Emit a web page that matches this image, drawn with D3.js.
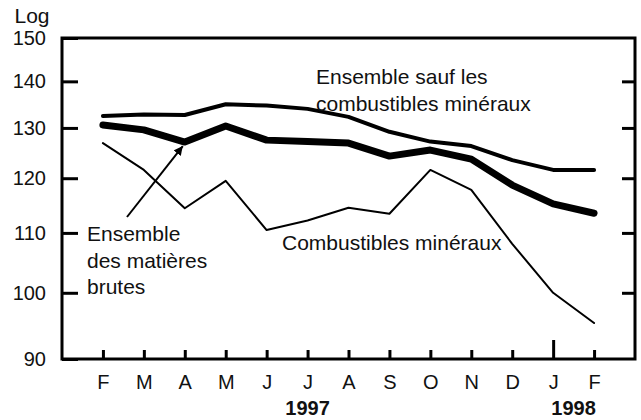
<!DOCTYPE html>
<html>
<head>
<meta charset="utf-8">
<script src="https://cdn.jsdelivr.net/npm/d3@7"></script>
<style>
  body { margin: 0; background: #fff; }
  svg { font-family: "Liberation Sans", Arial, sans-serif; }
</style>
</head>
<body>
<div id="chart"></div>
<script>
// Data (log index)
const months = ["F", "M", "A", "M", "J", "J", "A", "S", "O", "N", "D", "J", "F"];
const years = ["1997", "1998"];
const yTicks = [90, 100, 110, 120, 130, 140, 150];
const sansCombustibles = [132.5, 132.8, 132.7, 135.0, 134.7, 134.0, 132.3, 129.2, 127.2, 126.3, 123.5, 121.6, 121.6];
const ensemble = [130.6, 129.6, 127.1, 130.4, 127.5, 127.2, 126.9, 124.3, 125.5, 123.7, 118.7, 115.2, 113.5];
const combustibles = [126.9, 121.6, 114.4, 119.5, 110.5, 112.2, 114.5, 113.4, 121.6, 117.8, 108.1, 100.0, 95.3];

const width = 641;
const height = 420;
const m = { left: 62, right: 635, top: 38, bottom: 359 };

const svg = d3.select("#chart").append("svg")
    .attr("width", width)
    .attr("height", height);

// Arrow head
svg.append("defs").append("marker")
    .attr("id", "head")
    .attr("viewBox", "0 0 10 10")
    .attr("refX", 10).attr("refY", 5)
    .attr("markerWidth", 9).attr("markerHeight", 9)
    .attr("markerUnits", "userSpaceOnUse")
    .attr("orient", "auto")
    .append("path")
    .attr("d", "M0,0L10,5L0,10z")
    .attr("fill", "#000");

const x = d3.scalePoint()
    .domain(d3.range(months.length))
    .range([m.left, m.right])
    .padding(1);

const y = d3.scaleLog()
    .domain([90, 150])
    .range([m.bottom, m.top]);

// Axes (ticks point inward)
svg.append("g")
    .attr("transform", `translate(${m.left},0)`)
    .call(d3.axisLeft(y).tickValues(yTicks).tickFormat(d3.format("d"))
        .tickSizeInner(-16).tickSizeOuter(0).tickPadding(16));

svg.append("g")
    .attr("transform", `translate(${m.right},0)`)
    .call(d3.axisRight(y).tickValues(yTicks.slice(1, -1)).tickFormat("")
        .tickSizeInner(-13).tickSizeOuter(0));

const gx = svg.append("g")
    .attr("transform", `translate(0,${m.bottom})`)
    .call(d3.axisBottom(x).tickFormat(i => months[i])
        .tickSizeInner(-9).tickSizeOuter(0).tickPadding(16));

// longer tick marking the year change
gx.selectAll(".tick").filter(i => i === 11).select("line").attr("y2", -19);

svg.selectAll(".domain").remove();
svg.selectAll(".tick line").attr("stroke", "#000").attr("stroke-width", 3);
svg.selectAll(".tick text")
    .attr("fill", "#111")
    .attr("font-size", 20)
    .attr("font-family", "Liberation Sans, Arial, sans-serif");

// Frame
svg.append("rect")
    .attr("x", m.left).attr("y", m.top)
    .attr("width", m.right - m.left).attr("height", m.bottom - m.top)
    .attr("fill", "none")
    .attr("stroke", "#000")
    .attr("stroke-width", 3);

svg.append("text")
    .attr("x", 32).attr("y", 23)
    .attr("text-anchor", "middle")
    .attr("font-size", 21)
    .attr("fill", "#111")
    .text("Log");

// Year labels
svg.append("g")
    .attr("font-size", 20)
    .attr("font-weight", "bold")
    .attr("text-anchor", "middle")
    .attr("fill", "#111")
    .selectAll("text")
    .data(years)
    .join("text")
    .attr("x", (d, i) => i === 0 ? x(5) : (x(11) + x(12)) / 2)
    .attr("y", 415)
    .text(d => d);

// Lines
const line = d3.line()
    .x((d, i) => x(i))
    .y(d => y(d));

const series = [
    { values: combustibles, w: 2 },
    { values: sansCombustibles, w: 4 },
    { values: ensemble, w: 7 }
];

svg.append("g")
    .attr("fill", "none")
    .attr("stroke", "#000")
    .attr("stroke-linejoin", "round")
    .attr("stroke-linecap", "round")
    .selectAll("path")
    .data(series)
    .join("path")
    .attr("stroke-width", d => d.w)
    .attr("d", d => line(d.values));

// Labels
const labels = svg.append("g")
    .attr("font-size", 21)
    .attr("fill", "#111");

labels.append("text")
    .attr("x", 316).attr("y", 84)
    .call(t => t.append("tspan").text("Ensemble sauf les"))
    .call(t => t.append("tspan").attr("x", 316).attr("dy", 27).text("combustibles minéraux"));

labels.append("text")
    .attr("x", 282).attr("y", 250)
    .text("Combustibles minéraux");

labels.append("text")
    .attr("x", 87).attr("y", 241)
    .call(t => t.append("tspan").text("Ensemble"))
    .call(t => t.append("tspan").attr("x", 87).attr("dy", 26.5).text("des matières"))
    .call(t => t.append("tspan").attr("x", 87).attr("dy", 26.5).text("brutes"));

// Arrow pointing at the April value of the thick line
svg.append("line")
    .attr("x1", 127).attr("y1", 217)
    .attr("x2", x(2) - 2).attr("y2", y(ensemble[2]) + 4)
    .attr("stroke", "#000")
    .attr("stroke-width", 2)
    .attr("marker-end", "url(#head)");
</script>
</body>
</html>
